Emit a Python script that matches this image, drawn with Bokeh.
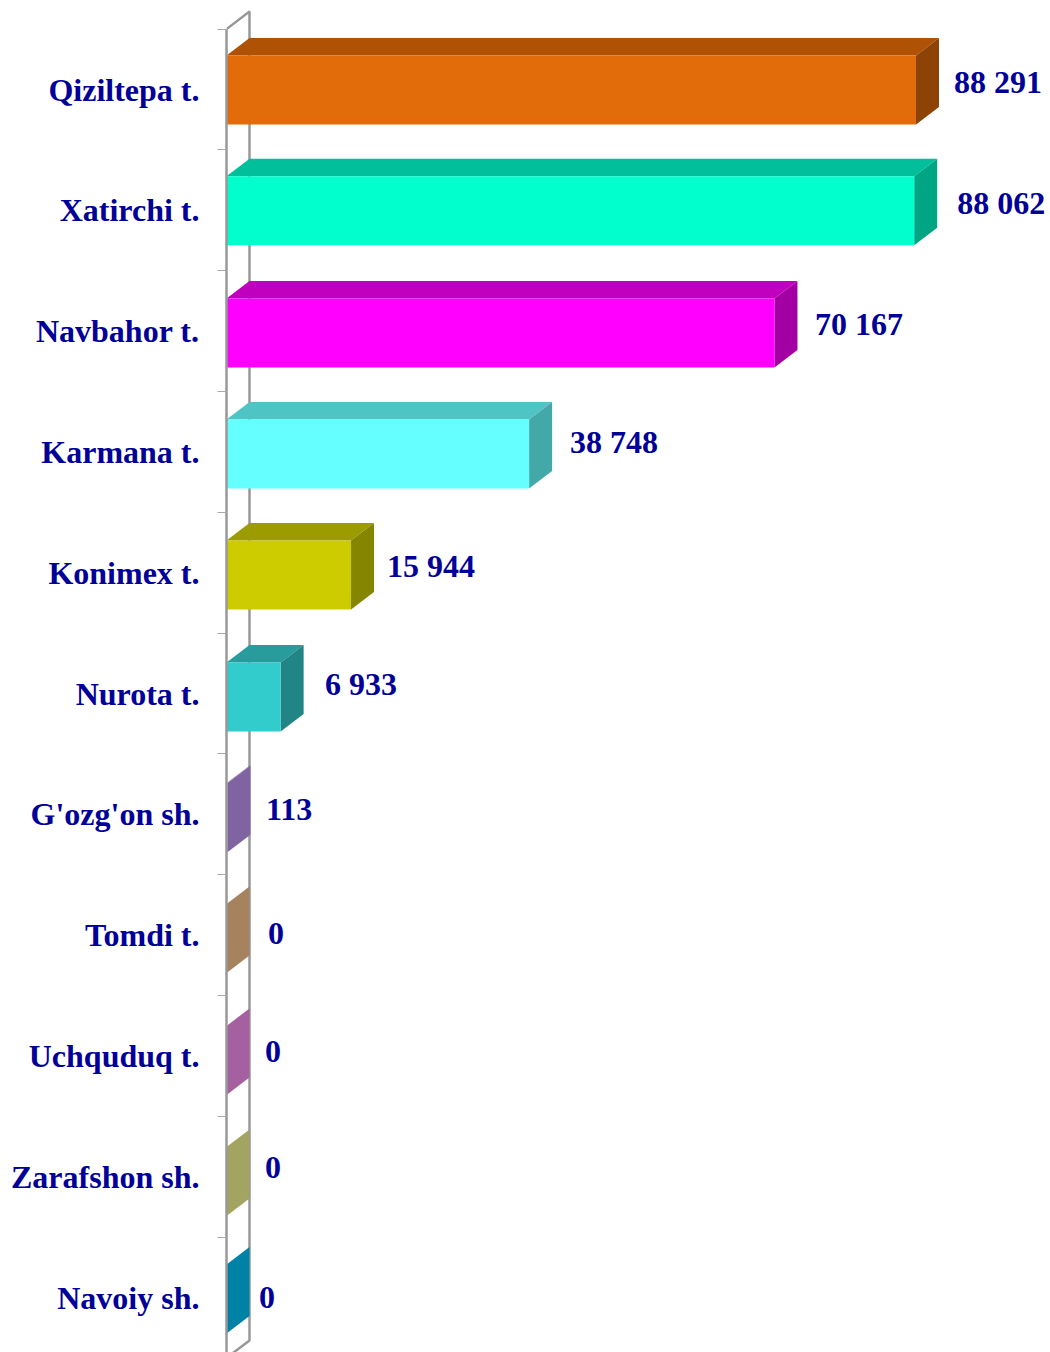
from bokeh.plotting import figure
from bokeh.models import Range1d, FixedTicker, ColumnDataSource
from bokeh.core.properties import value
from bokeh.embed import file_html
from bokeh.resources import INLINE

categories = ["Qiziltepa t.", "Xatirchi t.", "Navbahor t.", "Karmana t.", "Konimex t.", "Nurota t.",
              "G'ozg'on sh.", "Tomdi t.", "Uchquduq t.", "Zarafshon sh.", "Navoiy sh."]
values = [88291, 88062, 70167, 38748, 15944, 6933, 113, 0, 0, 0, 0]
front_colors = ["#E36C0A", "#00FFCC", "#FF00FF", "#66FFFF", "#CCCC00", "#33CCCC",
                "#8064A2", "#A6825F", "#A5619F", "#A3A362", "#0082A6"]
top_colors = ["#AF5206", "#00BF9A", "#C000BF", "#4FC4C4", "#9C9C00", "#289C9C",
              "#8064A2", "#A6825F", "#A5619F", "#A3A362", "#0082A6"]
side_colors = ["#8E4306", "#00A683", "#A300A3", "#42A8A8", "#858500", "#218585",
               "#8064A2", "#A6825F", "#A5619F", "#A3A362", "#0082A6"]
label_dx = [38.1, 43.1, 40.6, 40.9, 35.9, 44.3, 38.6, 41.5, 38.5, 38.5, 32.5]
label_dy = [-8, -7.8, -7.6, -10.4, -7.2, -10, -5.3, -1.8, -4.6, -9.4, 0]
bar_shift = [0.5, 0.5, 1.9, 2.1, 2.3, 3.5, 3.5, 3.5, 4.5, 4.8, 1.5]

W, H = 1050, 1352
X0, X_FULL = 226.0, 915.5      # page x of value 0 and of the largest value
Y0, PITCH = 89.0, 120.8        # page y of first category, px per category
BAR_H, DEPTH_X, DEPTH_Y = 69.0, 23.0, 17.5
LEFT = 226
PX = max(values) / (X_FULL - X0)
U = 1 / PITCH
dx, dy, hh = DEPTH_X * PX, DEPTH_Y * U, BAR_H / 2 * U
TEXT = "#000099"
GREY = "#989898"

p = figure(width=W, height=H, output_backend="svg", toolbar_location=None,
           x_range=Range1d((LEFT - X0) * PX, (W - X0) * PX),
           y_range=Range1d((H - Y0) * U, -Y0 * U),
           min_border_left=LEFT, min_border_right=0, min_border_top=0, min_border_bottom=0,
           outline_line_color=None, x_axis_location=None)
p.xgrid.visible = False
p.ygrid.visible = False

n = len(categories)
first, last = -0.5, n - 0.5
ax = p.yaxis[0]
ax.bounds = (first, last)
ax.ticker = FixedTicker(ticks=list(range(n)), minor_ticks=[i - 0.5 for i in range(n + 1)])
ax.major_label_overrides = {i: c for i, c in enumerate(categories)}
ax.major_tick_line_color = None
ax.major_tick_out = 0
ax.major_tick_in = 0
ax.minor_tick_out = 9
ax.minor_tick_in = 0
ax.minor_tick_line_color = "#A8A8A8"
ax.minor_tick_line_width = 1
ax.axis_line_color = GREY
ax.axis_line_width = 2.5
ax.major_label_text_font = "Liberation Serif"
ax.major_label_text_font_style = "bold"
ax.major_label_text_font_size = "32px"
ax.major_label_text_color = TEXT
ax.major_label_standoff = 18

# back wall, a parallelogram behind the bars
p.line([0, dx, dx, 0], [first, first - dy, last - dy, last], line_color=GREY, line_width=2.5)

c_ = [i + s * U for i, s in enumerate(bar_shift)]
tops = dict(xs=[[0, dx, v + dx, v] for v in values],
            ys=[[c - hh, c - hh - dy, c - hh - dy, c - hh] for c in c_], c=top_colors)
sides = dict(xs=[[v, v + dx, v + dx, v] for v in values],
             ys=[[c - hh, c - hh - dy, c + hh - dy, c + hh] for c in c_], c=side_colors)
fronts = dict(xs=[[0, v, v, 0] for v in values],
              ys=[[c - hh, c - hh, c + hh, c + hh] for c in c_], c=front_colors)
for d in (tops, sides, fronts):
    p.patches("xs", "ys", source=ColumnDataSource(d), fill_color="c", line_color=None)

labels = ColumnDataSource(dict(x=values, y=list(range(n)),
                               t=[f"{v:,}".replace(",", " ") for v in values],
                               ox=label_dx, oy=label_dy))
p.text("x", "y", text="t", x_offset="ox", y_offset="oy", source=labels,
       text_font=value("Liberation Serif"), text_font_style="bold", text_font_size="32px",
       text_color=TEXT, text_align="left", text_baseline="middle")

open("out.html", "w").write(file_html(p, INLINE))
